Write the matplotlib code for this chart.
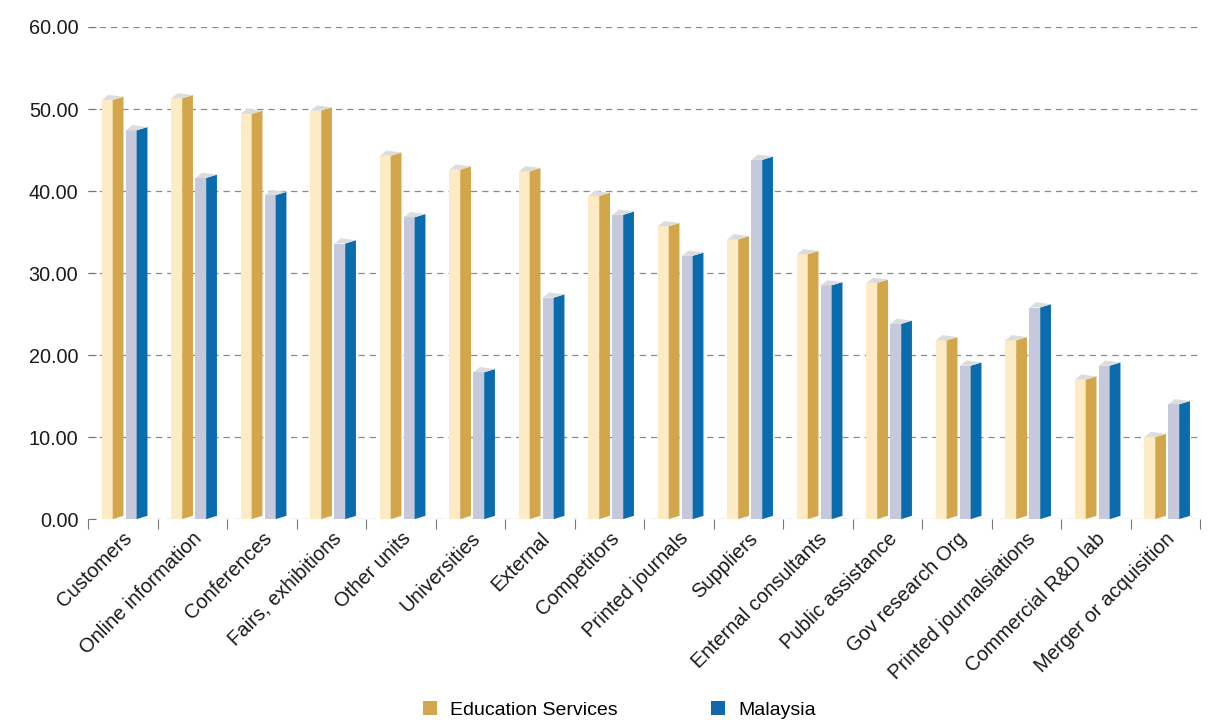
import matplotlib.pyplot as plt
from matplotlib.patches import Polygon, Patch
import numpy as np

plt.rcParams["font.family"] = ["Liberation Sans", "DejaVu Sans"]

categories = [
    "Customers", "Online information", "Conferences", "Fairs, exhibitions",
    "Other units", "Universities", "External", "Competitors",
    "Printed journals", "Suppliers", "Enternal consultants", "Public assistance",
    "Gov research Org", "Printed journalsiations", "Commercial R&D lab",
    "Merger or acquisition",
]
education = [51.1, 51.3, 49.4, 49.8, 44.3, 42.6, 42.4, 39.4,
             35.7, 34.1, 32.3, 28.8, 21.8, 21.8, 17.0, 10.0]
malaysia = [47.4, 41.6, 39.5, 33.6, 36.8, 17.9, 27.0, 37.1,
            32.1, 43.8, 28.5, 23.8, 18.7, 25.8, 18.7, 14.0]

series = [
    ("Education Services", education, "#fdebc5", "#d4a64b", -0.3),
    ("Malaysia", malaysia, "#c6c9db", "#0a6cad", 0.045),
]
legend_colors = ["#d4a74c", "#1068ad"]

fig = plt.figure(figsize=(12.14, 7.2), dpi=100)
ax = fig.add_axes([0.0725, 0.279, 0.916, 0.6835])

bar_w = 0.31
depth = 0.4
for name, values, light, dark, offset in series:
    for i, v in enumerate(values):
        xl = i + offset
        xm = xl + bar_w / 2
        xr = xl + bar_w
        # front face
        ax.add_patch(Polygon([(xl, 0), (xm, 0), (xm, v), (xl, v)],
                             closed=True, facecolor=light, edgecolor="none", zorder=3))
        # side face
        ax.add_patch(Polygon([(xm, 0), (xr, depth), (xr, v + depth), (xm, v)],
                             closed=True, facecolor=dark, edgecolor="none", zorder=3))
        # top cap
        ax.add_patch(Polygon([(xl, v), (xm, v), (xr, v + depth), (xl + bar_w / 2 * 0.6, v + depth * 1.6)],
                             closed=True, facecolor="#dcdcdc", edgecolor="none", zorder=3))

n = len(categories)
ax.set_xlim(-0.5, n - 0.5)
ax.set_ylim(0, 60)
ax.set_yticks(np.arange(0, 61, 10))
ax.set_yticklabels([f"{t:.2f}" for t in range(0, 61, 10)], fontsize=14.3, color="#1a1a1a")
ax.yaxis.grid(True, linestyle=(0, (5, 4)), color="#8a8a8a", linewidth=0.9)
ax.set_axisbelow(True)

ax.set_xticks(np.arange(n))
ax.set_xticklabels(categories, rotation=45, ha="right", rotation_mode="anchor",
                   fontsize=14.5, color="#1a1a1a")
ax.tick_params(axis="x", length=0, pad=7)
ax.set_xticks(np.arange(-0.5, n, 1), minor=True)
ax.tick_params(axis="x", which="minor", length=7, color="#777777", width=0.8)
ax.tick_params(axis="y", direction="in", length=6, color="#777777", width=0.8, pad=7)

for side in ["left", "right", "top", "bottom"]:
    ax.spines[side].set_visible(False)

handles = [Patch(facecolor=c, edgecolor="none") for c in legend_colors]
fig.legend(handles, [s[0] for s in series], loc="lower center", ncol=2,
           bbox_to_anchor=(0.51, -0.023), frameon=False, fontsize=14,
           handlelength=0.75, handleheight=0.75, columnspacing=4.8, handletextpad=0.65)

fig.savefig("out.png", dpi=100)
